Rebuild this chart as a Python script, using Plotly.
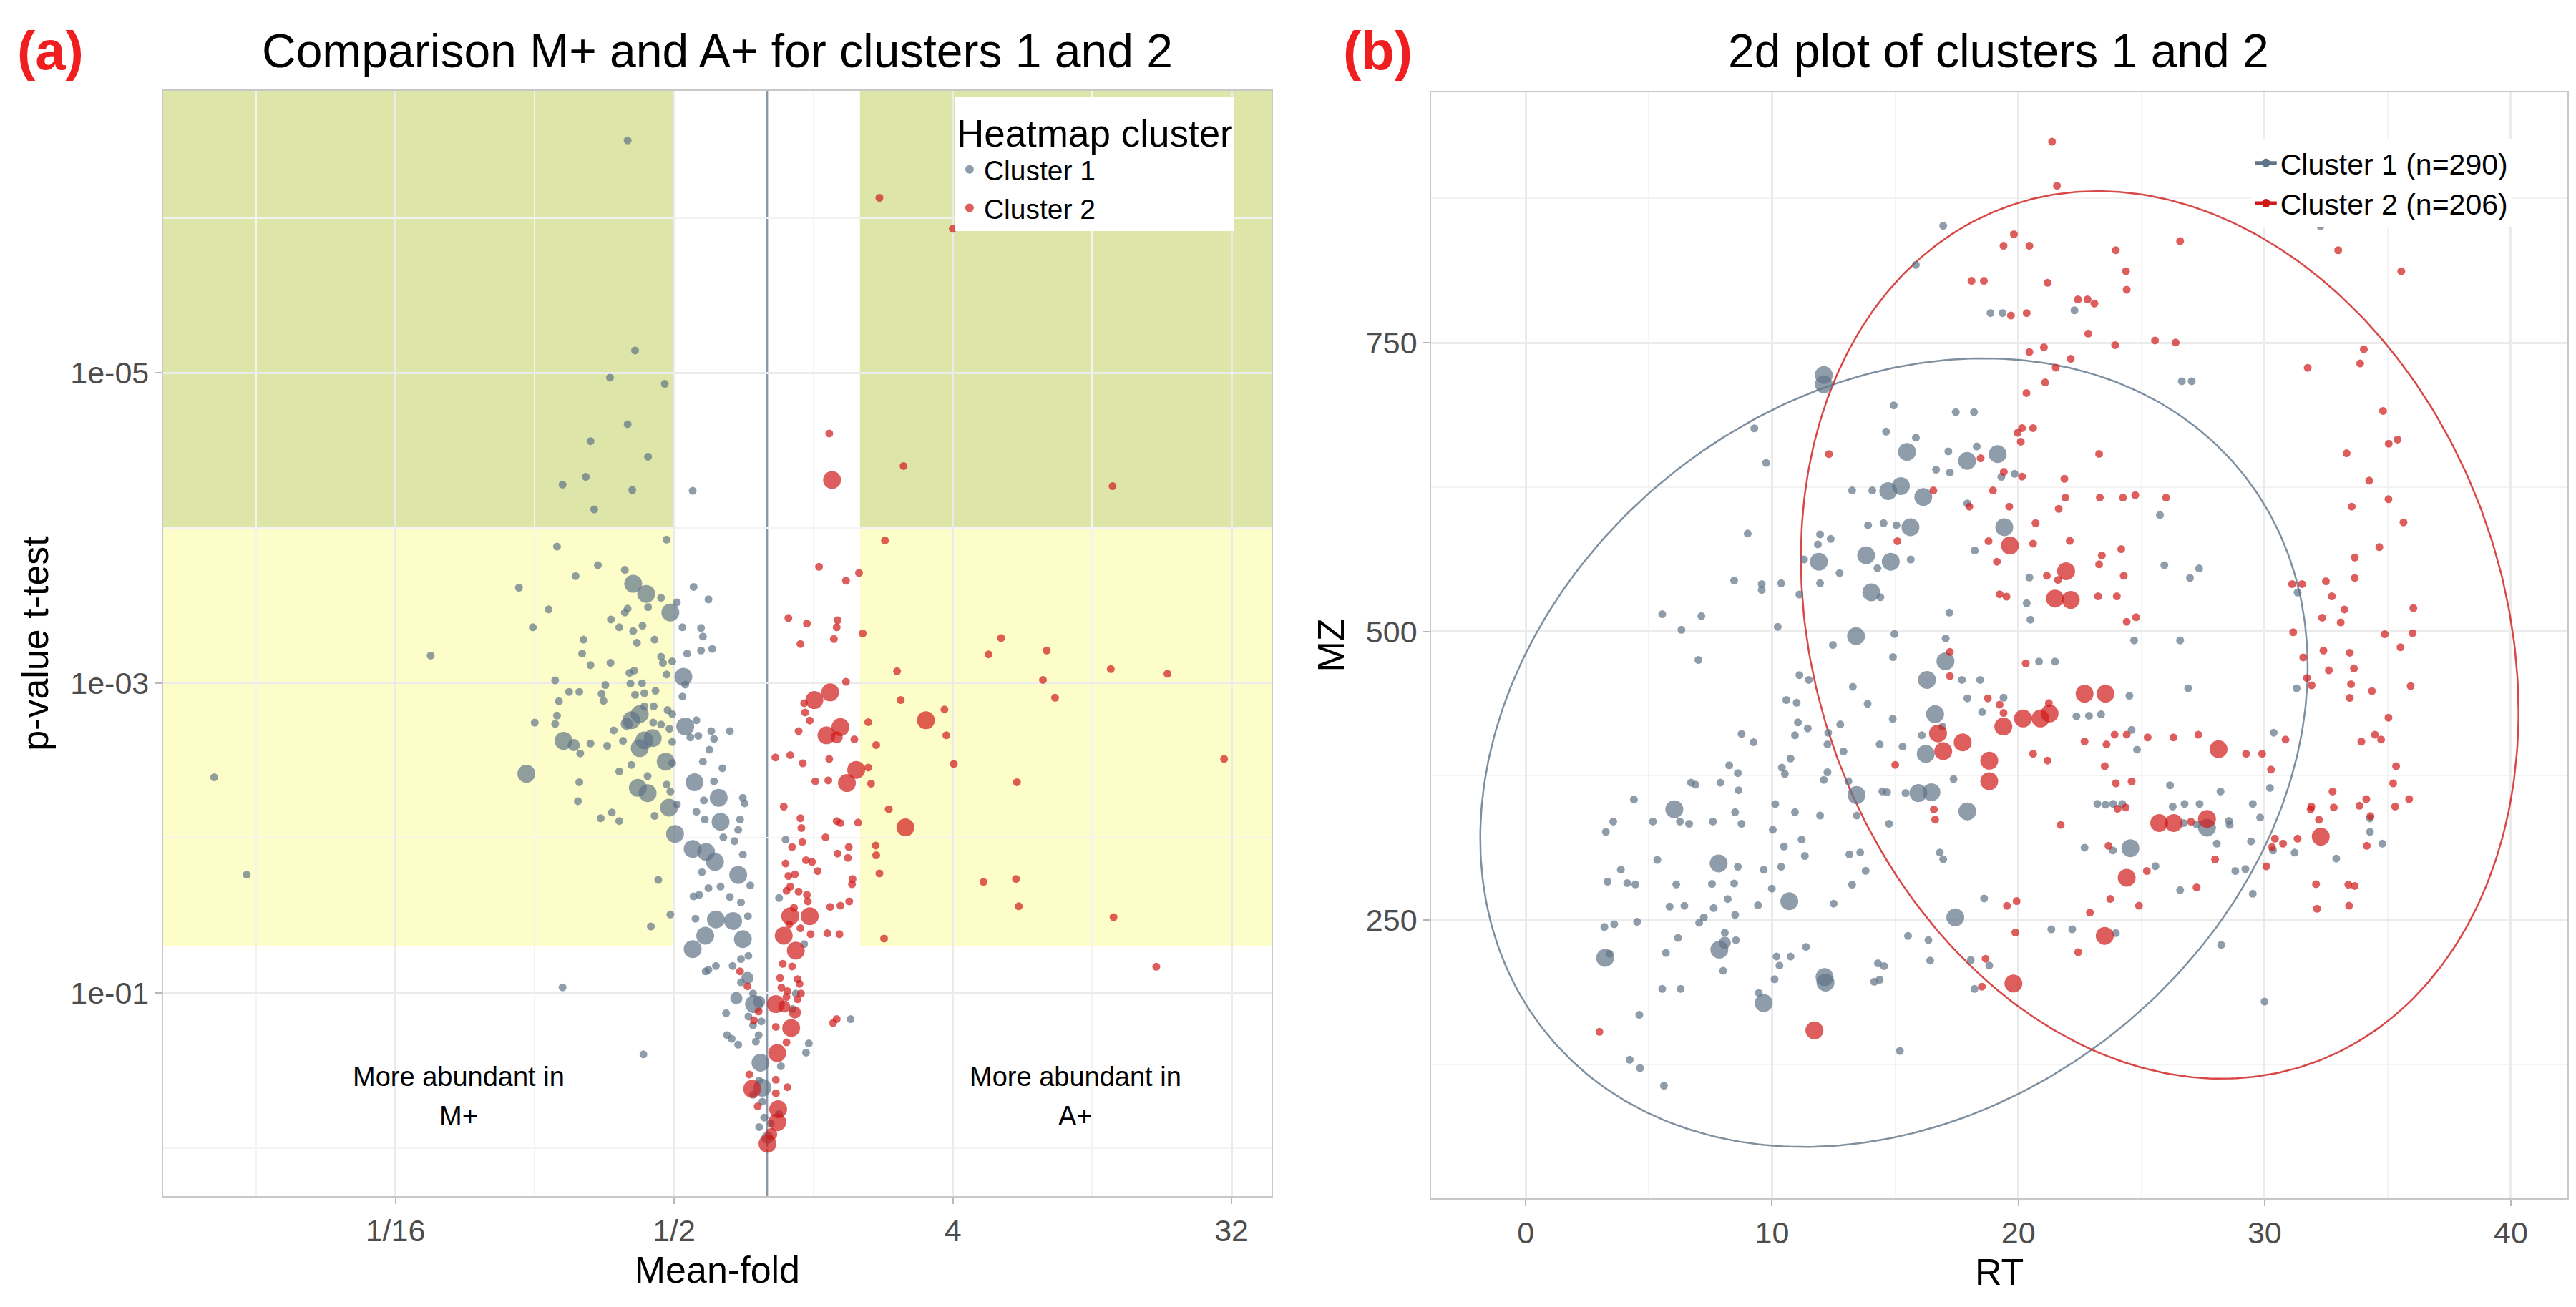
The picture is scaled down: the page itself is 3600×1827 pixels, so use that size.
import numpy as np
import plotly.graph_objects as go

# ---- panel (a): (log2 mean-fold, log10 p-value) ----
a_c1_small = [
    (-1.50, -6.50), (-1.42, -5.145), (-1.69, -4.97), (-1.10, -4.93), (-1.50, -4.67), (-1.90, -4.56), (-1.28, -4.46),
    (-2.20, -4.28), (-1.95, -4.33), (-1.45, -4.245), (-1.86, -4.12), (-0.80, -4.24),
    (-1.08, -3.925), (-2.26, -3.88), (-1.82, -3.76), (-1.53, -3.73), (-2.06, -3.69), (-2.67, -3.615), (-0.79, -3.62),
    (-0.63, -3.54), (-1.14, -3.55), (-2.35, -3.475), (-1.50, -3.48), (-1.53, -3.455), (-1.28, -3.49), (-0.97, -3.52),
    (-1.68, -3.41), (-1.59, -3.36), (-1.34, -3.37), (-1.44, -3.335), (-2.52, -3.36), (-0.91, -3.36), (-0.71, -3.355),
    (-0.69, -3.30), (-1.975, -3.28), (-1.40, -3.26), (-1.21, -3.28), (-1.99, -3.19), (-1.90, -3.115), (-1.685, -3.13),
    (-1.14, -3.17), (-1.12, -3.13), (-1.02, -3.14), (-0.86, -3.19), (-0.71, -3.21), (-0.59, -3.22), (-1.08, -3.055),
    (-1.48, -3.065), (-1.43, -3.08), (-0.88, -2.99), (-2.28, -3.017), (-1.74, -2.987), (-1.47, -2.996), (-1.345, -2.998),
    (-2.13, -2.943), (-2.02, -2.943), (-1.78, -2.93), (-1.76, -2.885), (-1.32, -2.934), (-1.42, -2.924), (-1.20, -2.95),
    (-0.91, -2.913), (-2.24, -2.883), (-1.32, -2.85), (-1.22, -2.85), (-1.07, -2.826), (-1.02, -2.80), (-2.26, -2.79),
    (-2.28, -2.737), (-2.50, -2.745), (-1.225, -2.745), (-1.14, -2.733), (-1.05, -2.705), (-0.76, -2.76), (-1.65, -2.695),
    (-1.55, -2.627), (-2.01, -2.546), (-1.90, -2.61), (-1.72, -2.595), (-1.02, -2.62), (-0.825, -2.65), (-0.74, -2.66),
    (-0.60, -2.69), (-0.57, -2.64), (-0.40, -2.69), (-0.62, -2.57), (-1.02, -2.483), (-1.46, -2.472), (-1.59, -2.43),
    (-0.69, -2.493), (-0.48, -2.45), (-1.285, -2.40), (-2.02, -2.36), (-1.08, -2.345), (-1.04, -2.30), (-0.57, -2.366),
    (-0.68, -2.243), (-0.26, -2.26), (-0.24, -2.224), (-2.035, -2.238), (-0.97, -2.217), (-1.21, -2.143), (-1.79, -2.128),
    (-1.67, -2.165), (-1.59, -2.11), (-0.76, -2.17), (-0.67, -2.12), (-0.29, -2.12), (-0.31, -2.052), (-0.47, -2.005),
    (-0.35, -1.98), (-0.26, -1.893), (-0.70, -1.78), (-0.18, -1.694), (-1.17, -1.73), (-0.63, -1.677), (-0.50, -1.687),
    (-0.79, -1.624), (-0.73, -1.634), (-0.40, -1.62), (-0.28, -1.585), (-0.77, -1.48), (-1.04, -1.507), (-1.25, -1.43),
    (-0.205, -1.496), (0.40, -1.316), (0.13, -1.613), (0.20, -1.99),
    (-3.62, -3.177), (-5.95, -2.392), (-5.60, -1.764), (-2.20, -1.037),
    (-0.63, -1.15), (-0.55, -1.175), (-0.66, -1.14), (-0.37, -1.175), (-0.28, -1.22), (-0.20, -1.24),
    (-0.28, -1.07), (-0.15, -0.998), (-0.44, -0.87), (-0.20, -0.849), (-0.06, -0.818), (-0.15, -0.793), (-0.43, -0.729),
    (-0.38, -0.705), (-0.31, -0.667), (-0.09, -0.729), (-0.12, -0.687), (-1.33, -0.605), (0.90, -0.832), (0.45, -0.675),
    (0.42, -0.616), (0.31, -0.998), (0.275, -0.898), (-0.085, -0.436), (-0.15, -0.344), (-0.05, -0.30), (0.13, -0.22),
    (-0.03, -0.197), (-0.085, -0.136), (0.04, -0.159), (0.15, -0.528),
]
a_c1_medium = [(-1.51, -2.737), (-2.08, -2.60), (-0.21, -1.098), (-0.33, -0.967), (-0.085, -0.944), (0.005, -0.066)]
a_c1_big = [
    (-1.44, -3.64), (-1.30, -3.575), (-1.04, -3.455), (-0.90, -3.04), (-1.46, -2.76), (-1.37, -2.80), (-0.88, -2.72),
    (-1.32, -2.63), (-1.23, -2.645), (-1.37, -2.58), (-2.19, -2.627), (-1.09, -2.493), (-2.59, -2.415), (-1.39, -2.324),
    (-1.285, -2.29), (-0.78, -2.36), (-0.52, -2.26), (-1.055, -2.196), (-0.50, -2.105), (-0.99, -2.027), (-0.80, -1.93),
    (-0.655, -1.91), (-0.56, -1.846), (-0.31, -1.762), (-0.55, -1.475), (-0.365, -1.465), (-0.26, -1.348),
    (-0.665, -1.37), (-0.80, -1.284), (-0.14, -0.929), (-0.07, -0.551), (-0.05, -0.39),
]
a_c2_small = [
    (1.21, -6.13), (2.00, -5.93), (0.67, -4.61), (1.47, -4.40), (3.72, -4.27),
    (1.27, -3.92), (0.56, -3.75), (0.99, -3.71), (0.85, -3.66), (0.23, -3.42), (0.43, -3.384), (0.76, -3.405),
    (0.75, -3.36), (1.03, -3.32), (0.36, -3.252), (0.72, -3.284), (1.40, -3.076), (0.85, -3.008), (0.40, -2.87),
    (0.41, -2.81), (1.44, -2.89), (1.91, -2.83), (0.46, -2.758), (0.34, -2.69), (0.94, -2.637), (1.09, -2.748),
    (1.93, -2.663), (1.175, -2.60), (0.09, -2.52), (0.25, -2.535), (0.385, -2.482), (0.67, -2.51), (1.09, -2.455),
    (2.01, -2.478), (0.52, -2.366), (0.66, -2.372), (1.12, -2.351), (0.18, -2.203), (0.36, -2.128), (0.37, -2.065),
    (0.75, -2.11), (0.79, -2.097), (0.98, -2.10), (1.31, -2.186), (0.63, -2.005), (0.38, -1.974), (0.27, -1.942),
    (0.88, -1.942), (0.76, -1.90), (0.87, -1.872), (1.17, -1.952), (1.175, -1.889), (0.20, -1.836), (0.42, -1.857),
    (0.485, -1.846), (0.545, -1.787), (0.92, -1.736), (0.915, -1.702), (1.21, -1.772), (0.23, -1.755), (0.30, -1.766),
    (0.25, -1.687), (0.21, -1.66), (0.34, -1.655), (0.43, -1.634), (0.44, -1.592), (0.29, -1.55), (0.68, -1.556),
    (0.79, -1.564), (0.885, -1.592), (0.24, -1.443), (0.36, -1.418), (0.47, -1.38), (0.65, -1.386), (0.78, -1.38),
    (1.26, -1.352), (0.17, -1.189), (0.27, -1.172),
    (2.385, -3.185), (3.01, -3.21), (2.97, -3.02), (3.70, -3.09), (4.31, -3.06), (3.10, -2.905), (4.92, -2.51),
    (2.69, -2.36), (2.33, -1.717), (2.68, -1.736), (2.71, -1.56), (3.73, -1.49), (4.19, -1.17), (2.52, -3.29),
    (-0.29, -1.14), (-0.21, -1.044), (0.14, -1.098), (0.33, -1.09), (0.35, -1.06), (0.155, -1.036), (0.22, -1.013),
    (0.21, -0.975), (0.365, -0.998), (0.33, -0.96), (-0.09, -0.882), (-0.14, -0.824), (0.095, -0.782), (0.21, -0.682),
    (0.75, -0.833), (0.71, -0.806), (-0.19, -0.475), (0.095, -0.441), (0.22, -0.393), (0.095, -0.354), (-0.10, -0.27),
]
a_c2_medium = [(0.75, -2.65), (0.185, -0.913), (0.30, -0.875), (0.045, -0.09)]
a_c2_big = [
    (0.70, -4.31), (0.68, -2.94), (0.51, -2.89), (1.71, -2.76), (0.64, -2.663), (0.79, -2.716), (0.96, -2.44),
    (0.86, -2.355), (1.49, -2.069), (0.25, -1.496), (0.46, -1.496), (0.18, -1.37), (0.31, -1.274),
    (0.095, -0.929), (0.26, -0.775), (0.11, -0.613), (-0.16, -0.382), (0.12, -0.251), (0.11, -0.167), (0.005, -0.028),
]

# ---- panel (b): (RT, MZ) ----
b_c1_small = [
    (16.95, 851.3), (15.84, 817.5), (32.27, 851.0),
    (18.87, 775.7), (19.36, 775.7), (14.94, 695.8), (17.46, 689.9), (18.2, 689.9), (9.28, 675.9), (14.63, 673.1),
    (15.84, 667.8), (17.16, 656), (18.31, 660.2), (9.76, 646), (16.66, 640.1), (17.22, 637.7), (19.31, 633.9),
    (13.25, 622.1), (14.07, 622.1), (17.93, 610.9), (13.9, 592), (14.53, 593.8), (15.05, 592), (9.01, 584.8),
    (11.95, 584.1), (12.38, 580.1), (11.86, 575.4), (11.3, 562.3), (14.28, 554.7), (15.63, 562.3), (18.23, 570.1),
    (12.74, 550.5), (8.46, 544), (9.58, 541), (9.58, 536), (10.37, 541.7), (11.95, 541.7), (11.11, 532), (14.4, 529.6),
    (17.2, 516.3), (5.54, 514.9), (7.13, 513.2), (6.32, 501.4), (10.23, 504), (14.97, 497.8), (17.05, 494),
    (12.47, 488.3), (7.01, 475.3), (14.91, 477.7), (11.11, 462.2), (11.49, 458), (13.28, 452), (17.71, 458), (18.45, 458),
    (10.58, 440.6), (11.0, 438.2), (13.88, 437.3), (17.93, 442), (18.53, 430.2), (14.9, 424.3), (11.05, 421.2),
    (11.45, 416), (12.77, 419.5), (16.92, 417.6), (8.76, 411.2), (9.25, 404.1), (10.93, 410), (12.28, 412.2),
    (12.25, 402.2), (12.9, 396), (14.37, 402.2), (15.3, 400.3), (16.08, 410), (10.75, 389.9), (8.26, 384),
    (8.61, 377.3), (10.4, 382), (10.52, 376.6), (12.1, 371.4), (12.25, 378), (13.1, 370.2), (17.37, 372.1),
    (6.71, 369), (6.89, 367.3), (7.9, 369), (8.64, 362.4), (14.48, 361.4), (14.67, 360.7), (15.42, 360), (4.39, 354.3),
    (10.13, 350.5), (10.93, 343.4), (8.5, 343.4), (11.95, 340.5), (13.44, 340.5), (14.75, 333.4), (3.55, 335.3),
    (3.25, 326.3), (5.16, 335.3), (6.26, 335.3), (6.63, 333.4), (7.6, 335.3), (8.76, 333.4), (10.03, 328.2),
    (11.2, 319.7), (10.48, 313.7), (11.33, 305.5), (13.14, 306.9), (13.58, 308.5), (16.81, 308.5), (16.95, 302.6),
    (5.34, 302.1), (3.86, 293.6), (8.61, 296.2), (9.66, 293.6), (10.37, 296.2), (13.8, 292.6), (3.32, 283.2),
    (4.12, 282), (4.45, 280.8), (6.11, 280.8), (7.56, 281.3), (8.46, 281.7), (9.99, 277.2), (13.25, 280.6),
    (8.2, 268.2), (12.5, 264.2), (18.61, 268.7), (5.84, 261.6), (6.44, 262.3), (7.63, 260.4), (9.43, 262.8),
    (8.5, 254.5), (7.23, 252.3), (7.04, 247.6), (3.19, 244), (3.59, 246.4), (4.52, 248.5), (6.18, 234.5), (8.08, 239),
    (8.53, 232.6), (15.52, 236.2), (16.35, 232.6), (3.4, 220.8), (5.69, 221.5), (11.38, 226.7), (10.18, 218.4),
    (10.75, 218.4), (10.3, 210.6), (8.01, 206.1), (14.3, 212.5), (14.55, 210.1), (16.42, 214.9), (18.07, 215.3),
    (18.82, 210.6), (10.1, 198.7), (14.15, 196.6), (14.37, 198.3), (18.22, 190.4), (5.54, 190.4), (6.29, 190.4),
    (9.46, 186.9), (4.61, 167.9), (15.19, 136.6), (4.22, 129), (4.64, 121.7), (5.61, 106.5),
    (22.28, 778.1), (26.64, 716.7), (27.04, 716.7), (19.85, 636.5), (25.75, 600.9),
    (25.93, 557.4), (27.34, 554.6), (26.97, 546.3), (20.45, 546.7), (20.34, 524.4), (20.49, 510.2), (24.7, 492.2),
    (26.57, 492.2), (20.84, 473.9), (21.49, 473.9), (31.34, 533.7), (26.9, 450.7), (24.51, 444.3), (31.3, 450.7),
    (19.4, 442.6), (22.36, 426.5), (22.87, 427), (23.36, 428.2), (24.6, 414.7), (24.82, 397.6), (30.37, 412.3),
    (26.16, 366.7), (28.21, 361.3), (30.22, 364.4), (23.21, 350.6), (23.54, 349.9), (23.85, 350.6), (24.22, 350.6),
    (26.27, 348.3), (26.75, 350.6), (27.36, 350.6), (29.52, 350.6), (29.82, 338.8), (28.55, 335.9), (28.58, 332.4),
    (26.72, 334), (27.24, 332.8), (34.28, 338.1), (34.28, 326.4), (34.78, 316.2), (22.69, 312.7), (23.84, 310.3),
    (28.06, 316.2), (29.45, 318.1), (30.34, 310.3), (31.22, 308.4), (32.91, 303.2), (25.57, 296.6), (28.81, 292.5),
    (29.22, 294.2), (26.57, 275.9), (29.52, 272.8), (21.34, 242), (22.19, 242), (23.96, 238.7), (28.24, 228.5),
    (30.0, 179.4),
]
b_c1_medium = [(8.08, 230.3)]
b_c1_big = [
    (12.1, 722), (12.1, 714), (15.48, 655.5), (19.16, 653.6), (17.92, 647.7), (14.72, 621.6), (15.23, 625.9),
    (16.14, 616.4), (15.62, 590.3), (19.43, 590.3), (11.9, 560.4), (13.82, 565.9), (14.82, 560.4), (14.03, 533.9),
    (13.41, 495.9), (17.04, 474.1), (16.29, 458), (16.62, 428.3), (16.24, 393.9), (13.43, 358.3), (15.94, 360),
    (16.47, 360.7), (6.03, 346), (17.93, 344.1), (7.83, 299), (10.7, 266.3), (17.44, 252.3), (7.86, 224.4),
    (3.22, 217.2), (12.17, 195.9), (12.13, 200.6), (9.66, 178.1), (27.66, 330), (24.55, 312.2),
]
b_c2_small = [
    (18.1, 803.7), (18.6, 803.7), (12.31, 653.6), (18.47, 650), (19.41, 638.2), (16.55, 622.1), (18.97, 622.1),
    (18.01, 608.1), (15.09, 578.2), (18.79, 578.2), (19.13, 560.4), (19.24, 532.2), (17.22, 482.2), (17.22, 461.3),
    (18.76, 442), (19.24, 436.6), (15.0, 384.4), (16.57, 345.8), (16.62, 337), (19.54, 262.3), (18.67, 216.5),
    (18.52, 192.3), (2.99, 153.2),
    (21.37, 924.2), (21.57, 886), (19.82, 844), (19.4, 834), (20.45, 834), (26.57, 838.1), (23.96, 830.2),
    (24.37, 812), (24.4, 795.9), (21.19, 802), (22.42, 787.6), (22.81, 787.6), (23.09, 784), (19.7, 773.6),
    (20.34, 775.7), (22.84, 758), (23.93, 748), (25.55, 752), (26.39, 750.3), (20.45, 742), (21.04, 746.1),
    (22.13, 736.1), (21.52, 728.5), (21.09, 715.7), (20.33, 706.5), (32.99, 830.2), (35.55, 812), (34.03, 744.4),
    (33.88, 732.1), (31.75, 728.3), (34.81, 691), (35.04, 662.6), (35.4, 666.2), (33.33, 654.3), (34.25, 630.6),
    (33.54, 608.1), (35.03, 614.5), (35.64, 594.5), (34.66, 573), (19.97, 672.1), (20.15, 676.1), (20.6, 676.1),
    (20.1, 664.3), (23.28, 653.8), (20.15, 634.1), (21.87, 632.2), (21.91, 615.9), (23.31, 615.9), (24.25, 615.9),
    (24.75, 618), (26.0, 615.9), (19.63, 608.1), (21.64, 606.2), (20.7, 593.8), (20.6, 576), (22.09, 578.4),
    (24.18, 571.3), (23.39, 565.8), (33.66, 564),
    (23.28, 558.1), (24.28, 548.2), (21.61, 544.6), (21.16, 548.2), (19.52, 530.1), (23.24, 530.4), (24.0, 530.4),
    (24.78, 512.3), (24.4, 508.3), (31.12, 541), (31.52, 541), (32.49, 543.4), (33.66, 546.3), (32.73, 530.4),
    (33.24, 519), (32.34, 511.9), (33.09, 507.8), (36.04, 520.2), (31.16, 499.3), (34.88, 497.6), (36.01, 498.4),
    (35.52, 486.3), (32.39, 483.4), (33.46, 481.5), (31.57, 477.5), (32.61, 466.3), (33.63, 468), (31.72, 459.7),
    (31.91, 453.3), (33.51, 454.3), (33.46, 442.4), (34.36, 448.3), (35.93, 452.6), (35.03, 425.3), (20.3, 472.3),
    (19.4, 429.4), (21.24, 437.9), (20.6, 394), (21.19, 388.1), (22.69, 404.7), (23.58, 402.1), (23.91, 410.6),
    (24.4, 410.6), (25.25, 408.2), (26.3, 408.2), (27.31, 410.6), (29.25, 394), (29.9, 394), (30.26, 380.3),
    (30.85, 406.3), (23.51, 383.3), (23.96, 368.4), (24.6, 370.1), (34.48, 410.6), (34.73, 406.3), (33.93, 404.5),
    (35.34, 383.3), (35.22, 368.4), (35.87, 354.7), (35.3, 348.3), (32.76, 361.3), (34.13, 354.7), (33.85, 349),
    (31.9, 348.3), (32.81, 347.5), (31.87, 345.9), (34.3, 340), (32.21, 336.9), (31.34, 320.5), (30.42, 320.5),
    (30.75, 316.2), (30.3, 313.2), (34.15, 314.3), (24.03, 346.4), (24.36, 347.5), (27.01, 335.2), (21.72, 332.4),
    (23.66, 314.3), (27.99, 302.5), (30.07, 296.5), (25.22, 292.5), (27.24, 278.3), (32.09, 281.1), (33.4, 280.7),
    (33.66, 279.5), (32.13, 259.8), (33.43, 262.4), (19.93, 266.4), (23.73, 268.3), (24.9, 262.4), (22.91, 256.5),
    (19.88, 239.2), (22.43, 222.1),
]
b_c2_big = [
    (16.74, 411.7), (16.95, 396.3), (17.74, 403.9), (18.82, 388), (18.82, 370.2), (19.39, 417.6), (19.8, 195),
    (11.72, 154.4), (19.66, 574.4), (21.94, 552.2), (21.49, 528.5), (22.13, 527.3), (22.69, 446), (23.54, 446),
    (20.19, 424.6), (20.9, 424.6), (21.27, 428.9), (28.13, 398), (32.28, 322.2), (25.72, 334), (26.31, 334),
    (27.66, 337.6), (24.4, 286.6), (23.51, 236.3),
]

# 95% ellipses as drawn (centre, covariance)
ell_c1_center = [14.95, 395.0]
ell_c1_cov = [[282.2, 1245.0], [1245.0, 116622.0]]
ell_c2_center = [25.74, 497.0]
ell_c2_cov = [[212.3, -968.0], [-968.0, 147763.0]]

# thresholds shading panel (a)
fold_cut = 2.0
p_strong = 1e-4
p_cut = 0.05

GRAY = '#5f7488'
RED = '#d01a1a'
SIZE = {'small': 11, 'medium': 17, 'big': 25}
FONT = 'Liberation Sans, Arial, sans-serif'


def stack(groups):
    xs, ys, ss = [], [], []
    for key, pts in groups:
        for x, y in pts:
            xs.append(x)
            ys.append(y)
            ss.append(SIZE[key])
    return np.array(xs), np.array(ys), ss


def ellipse(center, cov, n=400):
    t = np.linspace(0, 2 * np.pi, n)
    L = np.linalg.cholesky(np.array(cov))
    pts = np.array(center)[:, None] + L @ np.vstack([np.cos(t), np.sin(t)])
    return pts[0], pts[1]


fig = go.Figure()

# panel (a)
for name, col, groups in [
    ('Cluster 1', GRAY, [('small', a_c1_small), ('medium', a_c1_medium), ('big', a_c1_big)]),
    ('Cluster 2', RED, [('small', a_c2_small), ('medium', a_c2_medium), ('big', a_c2_big)]),
]:
    lx, ly, s = stack(groups)
    fig.add_trace(go.Scatter(
        x=2.0 ** lx, y=10.0 ** ly, mode='markers', name=name,
        marker=dict(color=col, size=s, line=dict(width=0)),
        xaxis='x', yaxis='y', legend='legend',
    ))

# panel (b)
for col, center, cov in [(GRAY, ell_c1_center, ell_c1_cov), (RED, ell_c2_center, ell_c2_cov)]:
    ex, ey = ellipse(center, cov)
    fig.add_trace(go.Scatter(x=ex, y=ey, mode='lines', line=dict(color=col, width=2.5),
                             opacity=0.8, showlegend=False, xaxis='x2', yaxis='y2'))

for col, groups in [
    (GRAY, [('small', b_c1_small), ('medium', b_c1_medium), ('big', b_c1_big)]),
    (RED, [('small', b_c2_small), ('big', b_c2_big)]),
]:
    x, y, s = stack(groups)
    fig.add_trace(go.Scatter(x=x, y=y, mode='markers', marker=dict(color=col, size=s, line=dict(width=0)),
                             showlegend=False, xaxis='x2', yaxis='y2'))

for name, col in [('Cluster 1 (n=290)', GRAY), ('Cluster 2 (n=206)', RED)]:
    fig.add_trace(go.Scatter(x=[None], y=[None], mode='lines+markers', name=name,
                             marker=dict(color=col, size=9), line=dict(color=col, width=2),
                             xaxis='x2', yaxis='y2', legend='legend2'))

# axis ranges (log10 units for the log axes)
xa_range = [np.log10(2 ** -6.5), np.log10(2 ** 5.43)]
ya_range = [0.31, -6.82]
x_lo, x_hi = 10 ** xa_range[0], 10 ** xa_range[1]
p_top, p_bot = 10 ** ya_range[1], 10 ** ya_range[0]

shapes = []
for x0, x1 in [(x_lo, 1 / fold_cut), (fold_cut, x_hi)]:
    shapes.append(dict(type='rect', xref='x', yref='y', x0=x0, x1=x1, y0=p_strong, y1=p_top,
                       fillcolor='#dde6a8', line=dict(width=0), layer='below'))
    shapes.append(dict(type='rect', xref='x', yref='y', x0=x0, x1=x1, y0=p_cut, y1=p_strong,
                       fillcolor='#fdfdc9', line=dict(width=0), layer='below'))
shapes.append(dict(type='line', xref='x', yref='y', x0=1, x1=1, y0=p_bot, y1=p_top,
                   line=dict(color='#8a99a8', width=3), layer='below'))

axis_common = dict(
    showgrid=True, gridcolor='#ebebeb', gridwidth=2.5, zeroline=False,
    showline=True, linecolor='#c8c8c8', linewidth=2, mirror=True,
    ticks='outside', ticklen=9, tickwidth=2, tickcolor='#b8b8b8',
    tickfont=dict(size=43, color='#4d4d4d', family=FONT),
)

fig.update_layout(
    width=3600, height=1827, margin=dict(l=0, r=0, t=0, b=0),
    paper_bgcolor='white', plot_bgcolor='white',
    font=dict(family=FONT, color='black'),
    shapes=shapes,
    xaxis=dict(axis_common, type='log', domain=[0.0633, 0.4936], range=xa_range, anchor='y',
               tickvals=[1 / 16, 1 / 2, 4, 32], ticktext=['1/16', '1/2', '4', '32'],
               minor=dict(tickvals=[2 ** -5.5, 2 ** -2.5, 2 ** 0.5, 2 ** 3.5], showgrid=True,
                          gridcolor='#f3f3f3', gridwidth=1.5, ticks=''),
               title=dict(text='Mean-fold', font=dict(size=52), standoff=14)),
    yaxis=dict(axis_common, type='log', domain=[0.0848, 0.9305], range=ya_range, anchor='x',
               tickvals=[1e-5, 1e-3, 1e-1], ticktext=['1e-05', '1e-03', '1e-01'],
               minor=dict(tickvals=[1e-6, 1e-4, 1e-2, 1], showgrid=True,
                          gridcolor='#f3f3f3', gridwidth=1.5, ticks=''),
               title=dict(text='p-value t-test', font=dict(size=52), standoff=14)),
    xaxis2=dict(axis_common, domain=[0.5556, 0.9967], range=[-3.84, 42.3], anchor='y2',
                tickvals=[0, 10, 20, 30, 40],
                minor=dict(tickvals=[5, 15, 25, 35], showgrid=True, gridcolor='#f3f3f3', gridwidth=1.5, ticks=''),
                title=dict(text='RT', font=dict(size=52), standoff=14)),
    yaxis2=dict(axis_common, domain=[0.0832, 0.9294], range=[9, 967], anchor='x2',
                tickvals=[250, 500, 750],
                minor=dict(tickvals=[125, 375, 625, 875], showgrid=True, gridcolor='#f3f3f3', gridwidth=1.5,
                           ticks=''),
                title=dict(text='MZ', font=dict(size=52), standoff=14)),
    legend=dict(x=0.3708, y=0.9255, xanchor='left', yanchor='top', bgcolor='white',
                title=dict(text='Heatmap cluster', font=dict(size=53)), font=dict(size=39),
                itemsizing='constant', tracegroupgap=0, itemwidth=30),
    legend2=dict(x=0.8741, y=0.8935, xanchor='left', yanchor='top', bgcolor='white',
                 font=dict(size=41), itemsizing='constant', tracegroupgap=0, itemwidth=30),
    annotations=[
        dict(text='<b>(a)</b>', x=0.006, y=0.9615, xref='paper', yref='paper', xanchor='left', yanchor='middle',
             showarrow=False, font=dict(size=76, color='#f01e1e')),
        dict(text='<b>(b)</b>', x=0.5208, y=0.9615, xref='paper', yref='paper', xanchor='left', yanchor='middle',
             showarrow=False, font=dict(size=76, color='#f01e1e')),
        dict(text='Comparison M+ and A+ for clusters 1 and 2', x=0.2784, y=0.961, xref='paper', yref='paper',
             xanchor='center', yanchor='middle', showarrow=False, font=dict(size=66)),
        dict(text='2d plot of clusters 1 and 2', x=0.7758, y=0.961, xref='paper', yref='paper',
             xanchor='center', yanchor='middle', showarrow=False, font=dict(size=66)),
        dict(text='More abundant in', x=-1.0, y=np.log10(0.347), xref='x', yref='y', showarrow=False,
             font=dict(size=38)),
        dict(text='M+', x=-1.0, y=np.log10(0.62), xref='x', yref='y', showarrow=False, font=dict(size=38)),
        dict(text='More abundant in', x=1.0, y=np.log10(0.347), xref='x', yref='y', showarrow=False,
             font=dict(size=38)),
        dict(text='A+', x=1.0, y=np.log10(0.62), xref='x', yref='y', showarrow=False, font=dict(size=38)),
    ],
)

fig.write_html("out.html", config={'displayModeBar': False},
               post_script="document.body.style.margin='0';document.body.style.overflow='hidden';")
